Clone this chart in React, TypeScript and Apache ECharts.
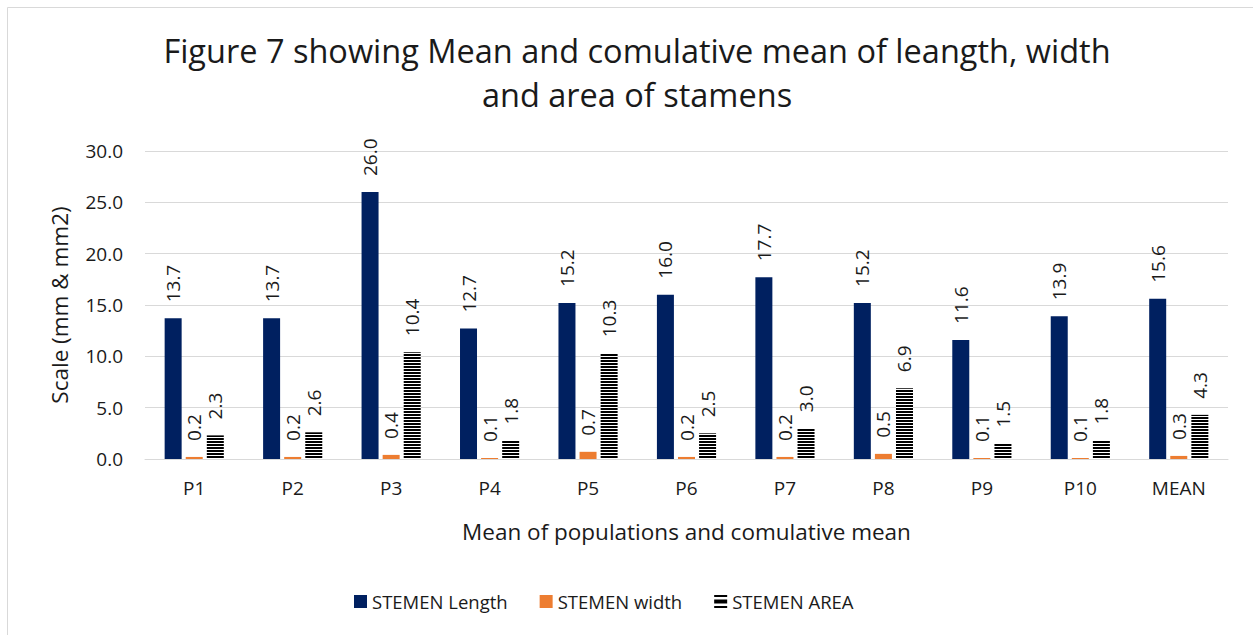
import React, { useEffect, useRef } from "react";
import * as echarts from "echarts";

const categories = ["P1", "P2", "P3", "P4", "P5", "P6", "P7", "P8", "P9", "P10", "MEAN"];
const stemenLength = [13.7, 13.7, 26.0, 12.7, 15.2, 16.0, 17.7, 15.2, 11.6, 13.9, 15.6];
const stemenWidth = [0.2, 0.2, 0.4, 0.1, 0.7, 0.2, 0.2, 0.5, 0.1, 0.1, 0.3];
const stemenArea = [2.3, 2.6, 10.4, 1.8, 10.3, 2.5, 3.0, 6.9, 1.5, 1.8, 4.3];
const seriesNames = ["STEMEN Length", "STEMEN width", "STEMEN AREA"];

const FONT = "'Open Sans', sans-serif";
const TXT = "#1a1a1a";

export default function App() {
  const ref = useRef<HTMLDivElement>(null);
  useEffect(() => {
    if (!ref.current) return;
    const chart = echarts.init(ref.current, undefined, { renderer: "svg" });
    const label = {
      show: true,
      position: "top" as const,
      rotate: 90,
      align: "left" as const,
      verticalAlign: "middle" as const,
      distance: 16,
      fontFamily: FONT,
      fontSize: 19,
      color: TXT,
      formatter: (p: any) => Number(p.value).toFixed(1),
    };
    chart.setOption({
      animation: false,
      backgroundColor: "#fff",
      textStyle: { fontFamily: FONT },
      graphic: [
        {
          type: "rect",
          shape: { x: 7.5, y: 7.5, width: 1300, height: 700 },
          style: { fill: "none", stroke: "#d9d9d9", lineWidth: 1 },
          silent: true,
          z: -10,
        },
      ],
      title: {
        text: "Figure 7 showing Mean and comulative mean of leangth, width\nand area of stamens",
        left: 632,
        textAlign: "center",
        top: 23,
        textStyle: { fontFamily: FONT, fontSize: 32.5, fontWeight: "normal", color: TXT, lineHeight: 44 },
      },
      legend: {
        left: 349,
        top: 587,
        itemWidth: 13,
        itemHeight: 13,
        itemGap: 32,
        textStyle: { fontFamily: FONT, fontSize: 18.5, color: TXT },
        data: [
          { name: seriesNames[0], icon: "rect" },
          { name: seriesNames[1], icon: "rect" },
          {
            name: seriesNames[2],
            icon: "path://M0,0H13V2H0Z M0,4.5H13V8.5H0Z M0,11H13V13H0Z",
            itemStyle: { color: "#000", decal: "none" },
          },
        ],
      },
      grid: { left: 145, right: 25, top: 151, bottom: 176 },
      xAxis: {
        type: "category",
        data: categories,
        name: "Mean of populations and comulative mean",
        nameLocation: "middle",
        nameGap: 61,
        nameTextStyle: { fontFamily: FONT, fontSize: 22.5, color: TXT },
        axisLine: { lineStyle: { color: "#d9d9d9", width: 1 } },
        axisTick: { show: false },
        axisLabel: { fontFamily: FONT, fontSize: 19, color: TXT, margin: 19 },
      },
      yAxis: {
        type: "value",
        min: 0,
        max: 30,
        interval: 5,
        name: "Scale (mm & mm2)",
        nameLocation: "middle",
        nameGap: 74,
        nameTextStyle: { fontFamily: FONT, fontSize: 22.5, color: TXT },
        axisLine: { show: false },
        axisTick: { show: false },
        splitLine: { lineStyle: { color: "#d9d9d9", width: 1 } },
        axisLabel: {
          fontFamily: FONT,
          fontSize: 19,
          color: TXT,
          margin: 22,
          formatter: (v: number) => v.toFixed(1),
        },
      },
      series: [
        {
          name: seriesNames[0],
          type: "bar",
          data: stemenLength,
          barWidth: 17,
          barGap: "24%",
          itemStyle: { color: "#002060" },
          label,
        },
        {
          name: seriesNames[1],
          type: "bar",
          data: stemenWidth,
          barWidth: 17,
          barGap: "24%",
          itemStyle: { color: "#ED7D31" },
          label,
        },
        {
          name: seriesNames[2],
          type: "bar",
          data: stemenArea,
          barWidth: 17,
          barGap: "24%",
          itemStyle: {
            color: "#ffffff",
            decal: {
              symbol: "rect",
              symbolSize: 1,
              dashArrayX: [[1, 0]],
              dashArrayY: [2, 1],
              color: "#000000",
              backgroundColor: "#ffffff",
            },
          },
          label,
        },
      ],
    });
    return () => chart.dispose();
  }, []);
  return (
    <div style={{ position: "absolute", left: 0, top: 0, width: 1253, height: 635, overflow: "hidden" }}>
      <div ref={ref} style={{ width: 1253, height: 635 }} />
    </div>
  );
}
